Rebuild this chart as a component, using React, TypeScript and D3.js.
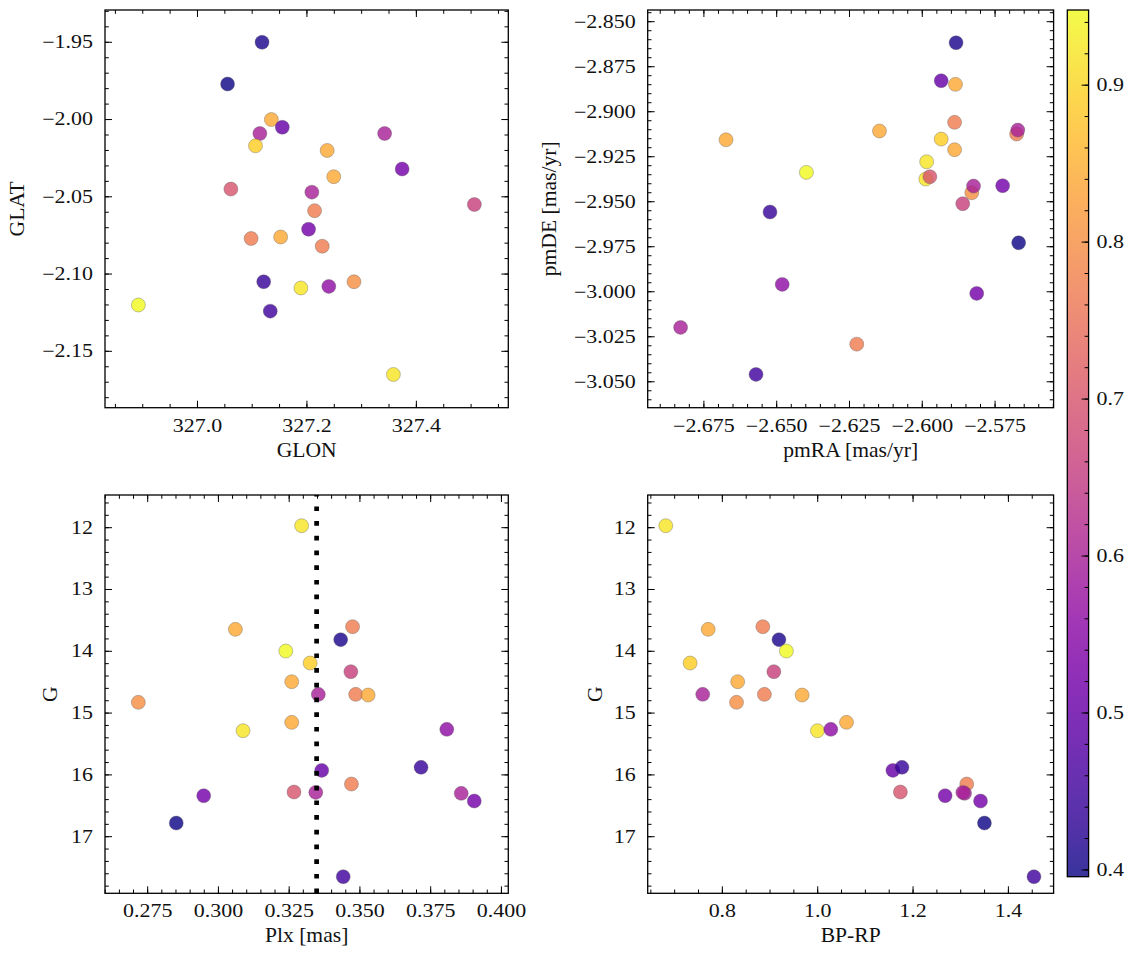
import React from "react";
import * as d3 from "d3";

// ---- data (per star) ----
const starGLON = [327.189, 327.214, 327.118, 326.892, 327.506, 327.237, 327.098, 327.249, 327.286, 327.152, 327.358, 327.240, 327.228, 327.342, 327.374, 327.203, 327.055, 327.133, 327.135, 327.155, 327.121, 327.114, 327.106, 327.061, 327.209];
const starGLAT = [-2.109, -2.059, -1.950, -2.120, -2.055, -2.020, -2.077, -2.037, -2.105, -2.076, -2.165, -2.108, -2.082, -2.009, -2.032, -2.071, -1.977, -2.124, -2.000, -2.005, -2.105, -2.009, -2.017, -2.045, -2.047];
const starPmRA = [-2.5985, -2.5889, -2.5884, -2.6398, -2.5861, -2.6147, -2.5676, -2.6674, -2.5830, -2.5889, -2.5988, -2.6481, -2.6225, -2.6830, -2.5724, -2.5813, -2.5669, -2.6571, -2.5886, -2.5935, -2.6523, -2.5672, -2.5935, -2.5974, -2.5824];
const starPmDE = [-2.9278, -2.9059, -2.8617, -2.9337, -2.9511, -2.9107, -2.9124, -2.9156, -2.9450, -2.9211, -2.9374, -2.9959, -3.0291, -3.0198, -2.9411, -3.0009, -2.9728, -3.0459, -2.8848, -2.8828, -2.9557, -2.9102, -2.9152, -2.9361, -2.9413];
const starPlx = [0.3294, 0.3474, 0.3432, 0.3238, 0.3468, 0.3259, 0.3485, 0.3529, 0.2717, 0.3259, 0.3087, 0.3807, 0.3470, 0.3858, 0.3904, 0.2948, 0.2851, 0.3441, 0.3060, 0.3365, 0.3716, 0.3353, 0.3324, 0.3267, 0.3344];
const starG = [11.968, 13.602, 13.812, 13.996, 14.330, 14.492, 14.697, 14.708, 14.826, 15.150, 15.285, 15.263, 16.148, 16.299, 16.423, 16.337, 16.779, 17.647, 13.645, 15.927, 15.878, 14.697, 14.190, 16.277, 16.283];
const starBPRP = [0.6813, 0.8849, 0.9187, 0.9343, 0.9080, 0.8321, 0.8882, 0.9673, 0.8297, 1.0604, 0.9995, 1.0275, 1.3126, 1.3080, 1.3415, 1.2673, 1.3497, 1.4536, 0.7703, 1.1577, 1.1767, 0.7588, 0.7324, 1.1734, 1.3044];
const starProb = [0.92, 0.77, 0.41, 0.95, 0.66, 0.84, 0.77, 0.84, 0.80, 0.84, 0.92, 0.56, 0.77, 0.60, 0.52, 0.52, 0.40, 0.45, 0.84, 0.50, 0.44, 0.60, 0.89, 0.70, 0.60];

const plxReference = 0.3347;

const probRange = [0.3957, 0.9479];
const probTicks = [0.4, 0.5, 0.6, 0.7, 0.8, 0.9];

const glonTicks = [327.0, 327.2, 327.4];
const glatTicks = [-1.95, -2.0, -2.05, -2.1, -2.15];
const pmraTicks = [-2.675, -2.65, -2.625, -2.6, -2.575];
const pmdeTicks = [-2.85, -2.875, -2.9, -2.925, -2.95, -2.975, -3.0, -3.025, -3.05];
const plxTicks = [0.275, 0.3, 0.325, 0.35, 0.375, 0.4];
const gTicks = [12, 13, 14, 15, 16, 17];
const bprpTicks = [0.8, 1.0, 1.2, 1.4];

const FONT = "'Liberation Serif', 'Times New Roman', serif";
const TICK_FS = 18;
const TICK_SX = 1.22;
const LABEL_FS = 20;
const LABEL_SX = 1.08;
const color = d3.scaleSequential(d3.interpolatePlasma).domain(probRange);

function minorTicks(domain: number[], step: number) {
  const lo = Math.min(domain[0], domain[1]);
  const hi = Math.max(domain[0], domain[1]);
  const a = Math.ceil(lo / step - 1e-9);
  const b = Math.floor(hi / step + 1e-9);
  return d3.range(a, b + 1).map((i) => i * step);
}

function T({ x, y, anchor = "start", dy, size, sx, rotate = 0, children }: any) {
  return (
    <text
      transform={`translate(${x},${y}) rotate(${rotate}) scale(${sx},1)`}
      textAnchor={anchor}
      dy={dy}
      fontFamily={FONT}
      fontSize={size}
      fill="#111"
    >
      {children}
    </text>
  );
}

function Axes(props: any) {
  const { x, y, xMajor, xMinorStep, yMajor, yMinorStep, xFmt, yFmt, xLabel, yLabel, yLabelX, children } = props;
  const [x0, x1] = x.range();
  const [y0, y1] = y.range(); // y0 bottom, y1 top
  const left = x0, right = x1, top = y1, bottom = y0;
  const maj = 7, min = 3.8;
  const xMinor = minorTicks(x.domain(), xMinorStep);
  const yMinor = minorTicks(y.domain(), yMinorStep);
  return (
    <g>
      {children}
      <g stroke="#000" strokeWidth={1}>
        {xMinor.map((v, i) => (
          <g key={"xm" + i}>
            <line x1={x(v)} x2={x(v)} y1={bottom} y2={bottom - min} />
            <line x1={x(v)} x2={x(v)} y1={top} y2={top + min} />
          </g>
        ))}
        {xMajor.map((v: number, i: number) => (
          <g key={"xM" + i}>
            <line x1={x(v)} x2={x(v)} y1={bottom} y2={bottom - maj} />
            <line x1={x(v)} x2={x(v)} y1={top} y2={top + maj} />
          </g>
        ))}
        {yMinor.map((v, i) => (
          <g key={"ym" + i}>
            <line x1={left} x2={left + min} y1={y(v)} y2={y(v)} />
            <line x1={right} x2={right - min} y1={y(v)} y2={y(v)} />
          </g>
        ))}
        {yMajor.map((v: number, i: number) => (
          <g key={"yM" + i}>
            <line x1={left} x2={left + maj} y1={y(v)} y2={y(v)} />
            <line x1={right} x2={right - maj} y1={y(v)} y2={y(v)} />
          </g>
        ))}
      </g>
      <rect x={left} y={top} width={right - left} height={bottom - top} fill="none" stroke="#000" strokeWidth={1.3} />
      {xMajor.map((v: number, i: number) => (
        <T key={"xl" + i} x={x(v)} y={bottom + 24} anchor="middle" size={TICK_FS} sx={TICK_SX}>{xFmt(v)}</T>
      ))}
      {yMajor.map((v: number, i: number) => (
        <T key={"yl" + i} x={left - 12} y={y(v)} dy="0.33em" anchor="end" size={TICK_FS} sx={TICK_SX}>{yFmt(v)}</T>
      ))}
      <T x={(left + right) / 2} y={bottom + 49} anchor="middle" size={LABEL_FS} sx={LABEL_SX}>{xLabel}</T>
      <T x={yLabelX} y={(top + bottom) / 2} anchor="middle" rotate={-90} size={LABEL_FS} sx={LABEL_SX}>{yLabel}</T>
    </g>
  );
}

function Points({ xs, ys, x, y }: any) {
  return (
    <g>
      {xs.map((v: number, i: number) => (
        <circle key={i} cx={x(v)} cy={y(ys[i])} r={7} fill={color(starProb[i])} fillOpacity={0.82} stroke="#555" strokeOpacity={0.7} strokeWidth={0.5} />
      ))}
    </g>
  );
}

export default function App() {
  const P1 = { l: 105, r: 508.3, t: 10, b: 407.7 };
  const P2 = { l: 647.7, r: 1053.6, t: 10, b: 407.7 };
  const P3 = { l: 105, r: 508.3, t: 495, b: 893.3 };
  const P4 = { l: 647.7, r: 1053.6, t: 495, b: 893.3 };
  const CB = { l: 1067.3, r: 1088.6, t: 10, b: 876.7 };

  const x1 = d3.scaleLinear().domain([326.831, 327.568]).range([P1.l, P1.r]);
  const y1 = d3.scaleLinear().domain([-2.1865, -1.9291]).range([P1.b, P1.t]);
  const x2 = d3.scaleLinear().domain([-2.6943, -2.5549]).range([P2.l, P2.r]);
  const y2 = d3.scaleLinear().domain([-3.0644, -2.8435]).range([P2.b, P2.t]);
  const x3 = d3.scaleLinear().domain([0.25992, 0.40243]).range([P3.l, P3.r]);
  const y3 = d3.scaleLinear().domain([17.916, 11.471]).range([P3.b, P3.t]);
  const x4 = d3.scaleLinear().domain([0.6434, 1.4948]).range([P4.l, P4.r]);
  const y4 = d3.scaleLinear().domain([17.916, 11.471]).range([P4.b, P4.t]);
  const cb = d3.scaleLinear().domain(probRange).range([CB.b, CB.t]);

  const f1 = d3.format(".1f");
  const f2 = d3.format(".2f");
  const f3 = d3.format(".3f");
  const f0 = d3.format("d");

  const gradStops = d3.range(0, 1.0001, 0.05);
  const cbMinor = minorTicks(probRange, 0.02);

  return (
    <svg width={1133} height={960} style={{ display: "block", margin: "-8px" }}>
      <rect width={1133} height={960} fill="#fff" />
      <defs>
        <linearGradient id="plasma" x1="0" y1="1" x2="0" y2="0">
          {gradStops.map((t, i) => (
            <stop key={i} offset={t} stopColor={d3.interpolatePlasma(t)} stopOpacity={0.82} />
          ))}
        </linearGradient>
      </defs>

      <Axes x={x1} y={y1} xMajor={glonTicks} xMinorStep={0.05} yMajor={glatTicks} yMinorStep={0.01}
        xFmt={f1} yFmt={f2} xLabel="GLON" yLabel="GLAT" yLabelX={24}>
        <Points xs={starGLON} ys={starGLAT} x={x1} y={y1} />
      </Axes>

      <Axes x={x2} y={y2} xMajor={pmraTicks} xMinorStep={0.005} yMajor={pmdeTicks} yMinorStep={0.005}
        xFmt={f3} yFmt={f3} xLabel="pmRA [mas/yr]" yLabel="pmDE [mas/yr]" yLabelX={556}>
        <Points xs={starPmRA} ys={starPmDE} x={x2} y={y2} />
      </Axes>

      <Axes x={x3} y={y3} xMajor={plxTicks} xMinorStep={0.005} yMajor={gTicks} yMinorStep={0.2}
        xFmt={f3} yFmt={f0} xLabel="Plx [mas]" yLabel="G" yLabelX={57}>
        <Points xs={starPlx} ys={starG} x={x3} y={y3} />
        <line x1={x3(plxReference)} x2={x3(plxReference)} y1={P3.b} y2={P3.t} stroke="#000" strokeWidth={4.7} strokeDasharray="4.7 10" />
      </Axes>

      <Axes x={x4} y={y4} xMajor={bprpTicks} xMinorStep={0.05} yMajor={gTicks} yMinorStep={0.2}
        xFmt={f1} yFmt={f0} xLabel="BP-RP" yLabel="G" yLabelX={602}>
        <Points xs={starBPRP} ys={starG} x={x4} y={y4} />
      </Axes>

      {/* colorbar */}
      <rect x={CB.l} y={CB.t} width={CB.r - CB.l} height={CB.b - CB.t} fill="url(#plasma)" />
      <g stroke="#000" strokeWidth={1}>
        {cbMinor.map((v, i) => (
          <line key={"cm" + i} x1={CB.r} x2={CB.r - 4} y1={cb(v)} y2={cb(v)} />
        ))}
        {probTicks.map((v, i) => (
          <line key={"cM" + i} x1={CB.r} x2={CB.r - 7} y1={cb(v)} y2={cb(v)} />
        ))}
      </g>
      <rect x={CB.l} y={CB.t} width={CB.r - CB.l} height={CB.b - CB.t} fill="none" stroke="#000" strokeWidth={1.3} />
      {probTicks.map((v, i) => (
        <T key={"cl" + i} x={CB.r + 8} y={cb(v)} dy="0.33em" size={TICK_FS} sx={TICK_SX}>{f1(v)}</T>
      ))}
    </svg>
  );
}
